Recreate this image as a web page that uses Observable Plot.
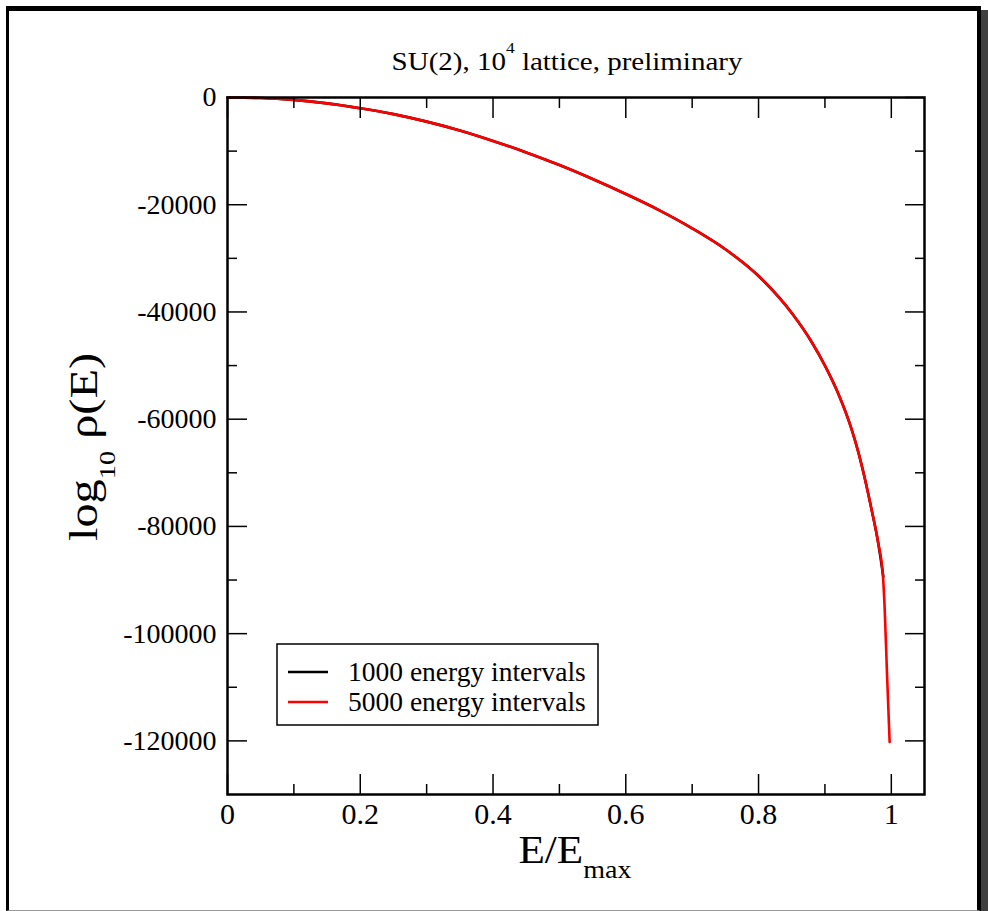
<!DOCTYPE html>
<html><head><meta charset="utf-8">
<script src="https://cdn.jsdelivr.net/npm/d3@7"></script>
<script src="https://cdn.jsdelivr.net/npm/@observablehq/plot@0.6"></script>
<style>
html,body{margin:0;padding:0;background:#fff;width:988px;height:911px;overflow:hidden}
body{position:relative;font-family:"Liberation Serif",serif}
#frame{position:absolute;left:6px;top:6px;width:968px;height:899px;border-top:5px solid #000;border-left:3px solid #000;border-right:4px solid #000;border-bottom:1px solid #999;background:#fff}
#chart{position:absolute;left:0;top:0;width:988px;height:911px;overflow:hidden}
#shadow{position:absolute;left:981px;top:10px;width:7px;height:901px;background:#404040;z-index:10}
</style></head>
<body>
<div id="frame"></div>
<div id="chart"></div>
<div id="shadow"></div>
<script>
// ---- data ----
const xs5000 = [0, 0.05, 0.1, 0.15, 0.2, 0.25, 0.3, 0.35, 0.4, 0.45, 0.5, 0.55, 0.6, 0.65, 0.7, 0.75, 0.8, 0.85, 0.88, 0.9, 0.92, 0.94, 0.95, 0.96, 0.97, 0.98, 0.9875, 0.9899, 0.9935, 0.9975];
const ys5000 = [0, -100, -450, -1100, -2000, -3100, -4500, -6150, -8100, -10250, -12600, -15200, -18000, -21000, -24400, -28300, -33300, -40200, -45600, -50000, -55200, -61800, -66000, -71000, -76700, -82900, -89400, -95000, -107400, -120200];
const xs1000 = [0, 0.05, 0.1, 0.15, 0.2, 0.25, 0.3, 0.35, 0.4, 0.45, 0.5, 0.55, 0.6, 0.65, 0.7, 0.75, 0.8, 0.85, 0.88, 0.9, 0.92, 0.94, 0.95, 0.96, 0.97, 0.98, 0.988];
const ys1000 = [0, -100, -450, -1100, -2000, -3100, -4500, -6150, -8100, -10250, -12600, -15200, -18000, -21000, -24400, -28300, -33300, -40200, -45600, -50000, -55200, -61800, -66000, -71000, -76700, -82900, -89400];
const seriesNames = ["1000 energy intervals", "5000 energy intervals"];
const seriesColors = ["#000000", "#ff0000"];
const xMajor = [0, 0.2, 0.4, 0.6, 0.8, 1];
const xMinor = [0.1, 0.3, 0.5, 0.7, 0.9];
const yMajor = [0, -20000, -40000, -60000, -80000, -100000, -120000];
const yMinor = [-10000, -30000, -50000, -70000, -90000, -110000];
const titleMain = "SU(2), 10";
const titleSup = "4";
const titleRest = " lattice, preliminary";

const d1000 = xs1000.map((x, i) => ({x, y: ys1000[i]}));
const d5000 = xs5000.map((x, i) => ({x, y: ys5000[i]}));

const tickOpts = {fill: "none", stroke: "#000", strokeWidth: 1.5, label: null};
const svg = Plot.plot({
  width: 988, height: 911,
  marginLeft: 227, marginRight: 64, marginTop: 97, marginBottom: 117,
  style: {fontFamily: "Liberation Serif, serif", background: "transparent", color: "#000", maxWidth: "none"},
  x: {domain: [0, 1.05]},
  y: {domain: [-130000, 0]},
  marks: [
    Plot.line(d1000, {x: "x", y: "y", stroke: seriesColors[0], strokeWidth: 2.6, curve: "monotone-x"}),
    Plot.line(d5000, {x: "x", y: "y", stroke: seriesColors[1], strokeWidth: 2.6, curve: "monotone-x"}),
    Plot.axisX(xMajor, {anchor: "bottom", tickSize: -20, ...tickOpts}),
    Plot.axisX(xMinor, {anchor: "bottom", tickSize: -10, ...tickOpts}),
    Plot.axisX(xMajor, {anchor: "top", tickSize: -20, ...tickOpts}),
    Plot.axisX(xMinor, {anchor: "top", tickSize: -10, ...tickOpts}),
    Plot.axisY(yMajor, {anchor: "left", tickSize: -20, ...tickOpts}),
    Plot.axisY(yMinor, {anchor: "left", tickSize: -10, ...tickOpts}),
    Plot.axisY(yMajor, {anchor: "right", tickSize: -20, ...tickOpts}),
    Plot.axisY(yMinor, {anchor: "right", tickSize: -10, ...tickOpts}),
    Plot.axisX(xMajor, {anchor: "bottom", tickSize: 0, tickPadding: 8, fontSize: 30, label: null,
      tickFormat: d => String(d)}),
    Plot.axisY(yMajor, {anchor: "left", tickSize: 0, tickPadding: 11, fontSize: 28, label: null,
      tickFormat: d => String(d)}),
    Plot.frame({stroke: "#000", strokeWidth: 2.5})
  ]
});
document.getElementById("chart").appendChild(svg);

const s = d3.select(svg);
const serif = "Liberation Serif, serif";
// title
const t = s.append("text").attr("transform", "translate(567,70) scale(1.16,1)").attr("text-anchor", "middle")
  .attr("font-family", serif).attr("font-size", 25).attr("fill", "#000");
t.append("tspan").text(titleMain);
t.append("tspan").attr("dy", -17).attr("font-size", 15).text(titleSup);
t.append("tspan").attr("dy", 17).text(titleRest);
// x label
const xl = s.append("text").attr("transform", "translate(575,863) scale(1.08,1)").attr("text-anchor", "middle")
  .attr("font-family", serif).attr("font-size", 40).attr("fill", "#000");
xl.append("tspan").text("E/E");
xl.append("tspan").attr("dy", 15).attr("font-size", 26).text("max");
// y label
const yl = s.append("text").attr("transform", "translate(97,447) rotate(-90) scale(1.18,1)").attr("text-anchor", "middle")
  .attr("font-family", serif).attr("font-size", 41).attr("fill", "#000");
yl.append("tspan").text("log");
yl.append("tspan").attr("dy", 18).attr("font-size", 24).text("10");
yl.append("tspan").attr("dy", -18).text(" ρ(E)");
// legend
const lg = s.append("g");
lg.append("rect").attr("x", 277).attr("y", 644).attr("width", 321).attr("height", 81)
  .attr("fill", "#fff").attr("stroke", "#000").attr("stroke-width", 1.5);
seriesNames.forEach((name, i) => {
  const yy = 672 + i * 30;
  lg.append("line").attr("x1", 288).attr("x2", 328).attr("y1", yy).attr("y2", yy)
    .attr("stroke", seriesColors[i]).attr("stroke-width", 2.5);
  lg.append("text").attr("x", 348).attr("y", yy + 9).attr("text-anchor", "start").attr("font-family", serif)
    .attr("font-size", 27.5).attr("fill", "#000").text(name);
});
</script>
</body></html>
